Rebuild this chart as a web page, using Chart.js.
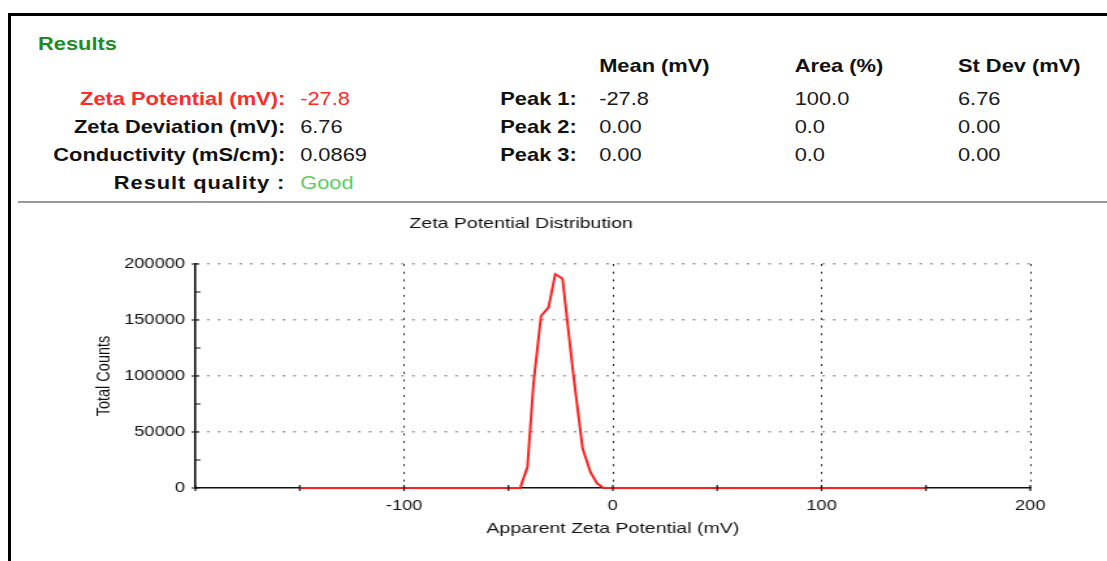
<!DOCTYPE html>
<html>
<head>
<meta charset="utf-8">
<script src="https://cdn.jsdelivr.net/npm/chart.js@4.4.0/dist/chart.umd.min.js"></script>
<style>
  html, body { margin: 0; padding: 0; background: #fff; }
  body { width: 1107px; height: 561px; position: relative; overflow: hidden; font-family: "Liberation Sans", Arial, sans-serif; }
  .frame-top { position: absolute; left: 8px; top: 13px; width: 1099px; height: 3px; background: #000; }
  .frame-left { position: absolute; left: 8px; top: 13px; width: 3px; height: 548px; background: #000; }
  .sep { position: absolute; left: 18px; top: 201px; width: 1089px; height: 2px; background: #9a9a9a; }
  .hdr { position: absolute; left: 0; top: 0; width: 963px; height: 200px; transform: scaleX(1.15); transform-origin: 0 0; font-size: 19px; line-height: 22px; color: #111; }
  .hdr div { position: absolute; white-space: nowrap; }
  .b { font-weight: bold; }
  #chart { position: absolute; left: 12px; top: 204px; }
</style>
</head>
<body>
<div class="frame-top"></div>
<div class="frame-left"></div>
<div class="sep"></div>
<div class="hdr" id="hdr"></div>
<!-- drawn at 842 wide and stretched to 1095, like the wide original screenshot -->
<canvas id="chart" width="842" height="357" style="width:1095px;height:357px"></canvas>
<script>
// summary block
var summaryLabels = ['Zeta Potential (mV):', 'Zeta Deviation (mV):', 'Conductivity (mS/cm):', 'Result quality :'];
var summaryValues = ['-27.8', '6.76', '0.0869', 'Good'];
var peakNames = ['Peak 1:', 'Peak 2:', 'Peak 3:'];
var peakColumns = ['Mean (mV)', 'Area (%)', 'St Dev (mV)'];
var peakMean = ['-27.8', '0.00', '0.00'];
var peakArea = ['100.0', '0.0', '0.0'];
var peakStDev = ['6.76', '0.00', '0.00'];

// distribution curve
var zetaMv = [-150, -44.4, -40.9, -38.0, -34.4, -30.8, -27.6, -24.1, -18.8, -14.5, -10.8, -7.6, -4.4, 150];
var totalCounts = [0, 0, 19000, 93500, 153600, 161300, 191000, 186900, 99400, 35400, 14600, 4200, 0, 0];

var FONT = '"Liberation Sans", Arial, sans-serif';

// header text (positions are in the unscaled box, it is stretched by 1.15)
var hdr = document.getElementById('hdr');
function put(text, left, top, opts) {
    opts = opts || {};
    var d = document.createElement('div');
    d.textContent = text;
    d.style.top = top + 'px';
    if (opts.right !== undefined) {
        d.style.left = '0px';
        d.style.width = opts.right + 'px';
        d.style.textAlign = 'right';
    } else {
        d.style.left = left + 'px';
    }
    if (opts.bold) d.className = 'b';
    if (opts.color) d.style.color = opts.color;
    if (opts.spacing) d.style.letterSpacing = opts.spacing;
    hdr.appendChild(d);
}

put('Results', 33, 33, { bold: true, color: '#1f8b24' });

var rowTops = [88, 116, 144, 172];
summaryLabels.forEach(function (l, i) {
    var col = i === 0 ? '#ff2a2a' : null;
    put(l, 0, rowTops[i], { right: 248, bold: true, color: col, spacing: i === 3 ? '0.8px' : null });
    var vcol = i === 0 ? '#ff2a2a' : (i === 3 ? '#62cc62' : '#1a1a1a');
    put(summaryValues[i], 261, rowTops[i], { color: vcol });
});

var colLeft = [521, 691, 833];
peakColumns.forEach(function (c, i) {
    put(c, colLeft[i], 55, { bold: true });
});
peakNames.forEach(function (p, i) {
    put(p, 435, rowTops[i], { bold: true });
    put(peakMean[i], colLeft[0], rowTops[i], { color: '#1a1a1a' });
    put(peakArea[i], colLeft[1], rowTops[i], { color: '#1a1a1a' });
    put(peakStDev[i], colLeft[2], rowTops[i], { color: '#1a1a1a' });
});

// small tick marks crossing the axes
var tickMarks = {
    id: 'tickMarks',
    afterDraw: function (chart) {
        var ctx = chart.ctx, x = chart.scales.x, y = chart.scales.y, area = chart.chartArea;
        ctx.save();
        ctx.strokeStyle = '#111';
        ctx.lineWidth = 1.2;
        ctx.beginPath();
        x.ticks.forEach(function (t) {
            var px = x.getPixelForValue(t.value);
            ctx.moveTo(px, area.bottom - 3);
            ctx.lineTo(px, area.bottom + 3);
        });
        y.ticks.forEach(function (t) {
            var py = y.getPixelForValue(t.value);
            var major = t.value % 50000 === 0;
            ctx.moveTo(area.left - (major ? 3 : 0.5), py);
            ctx.lineTo(area.left + (major ? 3 : 4), py);
        });
        ctx.stroke();
        ctx.restore();
    }
};

new Chart(document.getElementById('chart'), {
    type: 'line',
    data: {
        datasets: [{
            data: zetaMv.map(function (v, i) { return { x: v, y: totalCounts[i] }; }),
            borderColor: '#ff2020',
            borderWidth: 2,
            pointRadius: 0,
            tension: 0,
            fill: false,
            clip: false
        }]
    },
    options: {
        responsive: false,
        animation: false,
        devicePixelRatio: 1,
        layout: { padding: { left: 0, right: 59, top: 0, bottom: 0 } },
        plugins: {
            legend: { display: false },
            tooltip: { enabled: false },
            title: {
                display: true,
                text: 'Zeta Potential Distribution',
                color: '#111',
                font: { family: FONT, size: 15, weight: 'normal' },
                padding: { top: 11, bottom: 31 }
            }
        },
        scales: {
            x: {
                type: 'linear',
                min: -200,
                max: 200,
                afterFit: function (s) { s.height = 73; },
                ticks: {
                    stepSize: 50,
                    autoSkip: false,
                    maxRotation: 0,
                    padding: 10,
                    color: '#111',
                    font: { family: FONT, size: 14 },
                    callback: function (v) { return (v % 100 === 0 && v !== -200) ? String(v) : ''; }
                },
                grid: {
                    drawTicks: false,
                    lineWidth: 1,
                    color: function (c) {
                        return (c.tick && c.tick.value % 100 === 0 && c.tick.value !== -200) ? '#222' : 'rgba(0,0,0,0)';
                    }
                },
                border: { color: '#111', width: 1.6, dash: [2, 5.7] },
                title: {
                    display: true,
                    text: 'Apparent Zeta Potential (mV)',
                    color: '#111',
                    font: { family: FONT, size: 15 },
                    padding: { top: 0, bottom: 23 }
                }
            },
            y: {
                min: 0,
                max: 200000,
                afterFit: function (s) { s.width = 141; },
                ticks: {
                    stepSize: 25000,
                    autoSkip: false,
                    padding: 8,
                    color: '#111',
                    font: { family: FONT, size: 14 },
                    callback: function (v) { return v % 50000 === 0 ? String(v) : ''; }
                },
                grid: {
                    drawTicks: false,
                    lineWidth: 1.6,
                    color: function (c) {
                        return (c.tick && c.tick.value % 50000 === 0 && c.tick.value !== 0) ? '#9a9a9a' : 'rgba(0,0,0,0)';
                    }
                },
                border: { color: '#111', width: 1.6, dash: [2, 6.3] },
                title: {
                    display: true,
                    text: 'Total Counts',
                    color: '#111',
                    font: { family: FONT, size: 14.5 },
                    padding: { top: 62, bottom: 0 }
                }
            }
        }
    },
    plugins: [tickMarks]
});
</script>
</body>
</html>
